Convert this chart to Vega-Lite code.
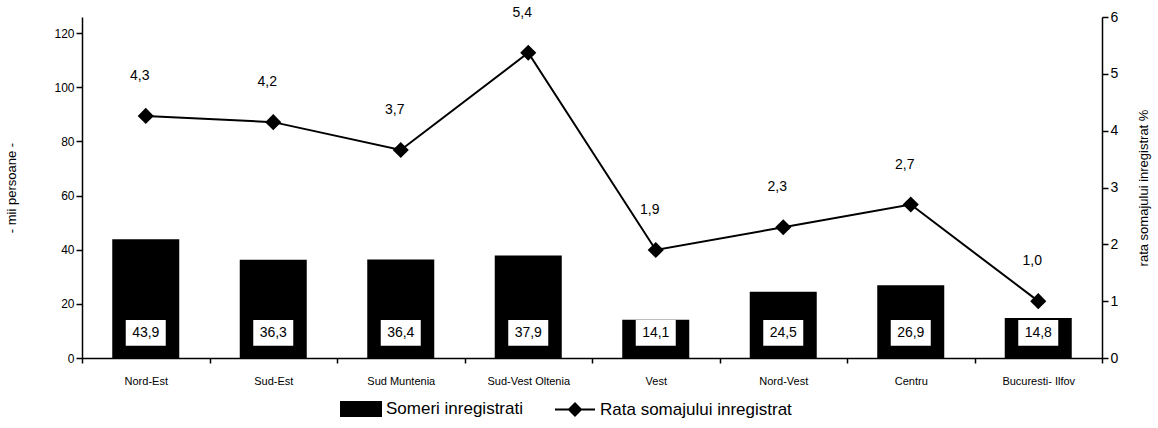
{
  "$schema": "https://vega.github.io/schema/vega-lite/v6.json",
  "width": 1020,
  "height": 341,
  "autosize": {"type": "none"},
  "padding": {"left": 82, "top": 17, "right": 56, "bottom": 70},
  "background": "white",
  "config": {
    "view": {"stroke": null},
    "font": "Liberation Sans",
    "axis": {"domainColor": "black", "tickColor": "black", "labelColor": "black", "titleColor": "black", "grid": false, "labelFont": "Liberation Sans", "titleFont": "Liberation Sans", "titleFontWeight": "normal", "domainWidth": 1.5, "tickWidth": 1.5},
    "legend": {"labelFont": "Liberation Sans"}
  },
  "data": {
    "values": [
      {"region": "Nord-Est", "someri": 43.9, "someriLabel": "43,9", "rata": 4.26, "rataLabel": "4,3"},
      {"region": "Sud-Est", "someri": 36.3, "someriLabel": "36,3", "rata": 4.15, "rataLabel": "4,2"},
      {"region": "Sud Muntenia", "someri": 36.4, "someriLabel": "36,4", "rata": 3.66, "rataLabel": "3,7"},
      {"region": "Sud-Vest Oltenia", "someri": 37.9, "someriLabel": "37,9", "rata": 5.37, "rataLabel": "5,4"},
      {"region": "Vest", "someri": 14.1, "someriLabel": "14,1", "rata": 1.9, "rataLabel": "1,9"},
      {"region": "Nord-Vest", "someri": 24.5, "someriLabel": "24,5", "rata": 2.3, "rataLabel": "2,3"},
      {"region": "Centru", "someri": 26.9, "someriLabel": "26,9", "rata": 2.7, "rataLabel": "2,7"},
      {"region": "Bucuresti- Ilfov", "someri": 14.8, "someriLabel": "14,8", "rata": 1.0, "rataLabel": "1,0"}
    ]
  },
  "encoding": {
    "x": {
      "field": "region", "type": "nominal", "sort": null,
      "scale": {"paddingInner": 0, "paddingOuter": 0},
      "axis": {"title": null, "labelAngle": 0, "labelFontSize": 11, "labelPadding": 12, "tickBand": "extent", "tickSize": 5, "domainColor": "black"}
    }
  },
  "layer": [
    {
      "layer": [
        {
          "mark": {"type": "bar", "size": 67, "color": "black"},
          "encoding": {
            "y": {"field": "someri", "type": "quantitative", "scale": {"domain": [0, 126], "nice": false}, "axis": {"title": "- mii persoane -", "titleFontSize": 13, "titlePadding": 35, "values": [0, 20, 40, 60, 80, 100, 120], "labelFontSize": 12, "tickSize": 6}},
            "color": {"datum": "Someri inregistrati", "type": "nominal", "scale": {"domain": ["Someri inregistrati", "Rata somajului inregistrat"], "range": ["black", "black"]},
              "legend": {"title": null, "orient": "none", "legendX": 258, "legendY": 371, "direction": "horizontal", "labelFontSize": 17, "labelLimit": 0, "symbolSize": 1600, "columnPadding": 28, "labelOffset": 4,
                "encode": {"symbols": {"update": {
                  "shape": {"signal": "datum.value === 'Someri inregistrati' ? 'M-1,-0.35H1V0.35H-1Z' : 'M-1,0H-0.3L0,-0.3L0.3,0L0,0.3L-0.3,0M0.3,0H1'"},
                  "fill": {"value": "black"}, "stroke": {"value": "black"}, "strokeWidth": {"value": 2}, "opacity": {"value": 1}, "fillOpacity": {"value": 1}}}}}}
          }
        },
        {
          "mark": {"type": "bar", "size": 40, "color": "white"},
          "encoding": {"y": {"datum": 14}, "y2": {"datum": 4.5}}
        },
        {
          "mark": {"type": "text", "fontSize": 14, "color": "black", "baseline": "middle"},
          "encoding": {"y": {"datum": 9.2}, "text": {"field": "someriLabel"}}
        }
      ]
    },
    {
      "layer": [
        {
          "mark": {"type": "line", "strokeWidth": 2},
          "encoding": {
            "y": {"field": "rata", "type": "quantitative", "scale": {"domain": [0, 6], "nice": false}, "axis": {"orient": "right", "title": "rata somajului inregistrat %", "titleAngle": -90, "titleFontSize": 13, "titlePadding": 33, "values": [0, 1, 2, 3, 4, 5, 6], "format": "d", "labelFontSize": 14, "tickSize": 6}},
            "color": {"datum": "Rata somajului inregistrat", "type": "nominal"}
          }
        },
        {
          "mark": {"type": "point", "shape": "diamond", "filled": true, "size": 260, "opacity": 1},
          "encoding": {
            "y": {"field": "rata", "type": "quantitative"},
            "color": {"datum": "Rata somajului inregistrat", "type": "nominal"}
          }
        },
        {
          "mark": {"type": "text", "fontSize": 14, "color": "black", "dy": -40, "dx": -6},
          "encoding": {"y": {"field": "rata", "type": "quantitative"}, "text": {"field": "rataLabel"}}
        }
      ]
    }
  ],
  "resolve": {"scale": {"y": "independent"}}
}
